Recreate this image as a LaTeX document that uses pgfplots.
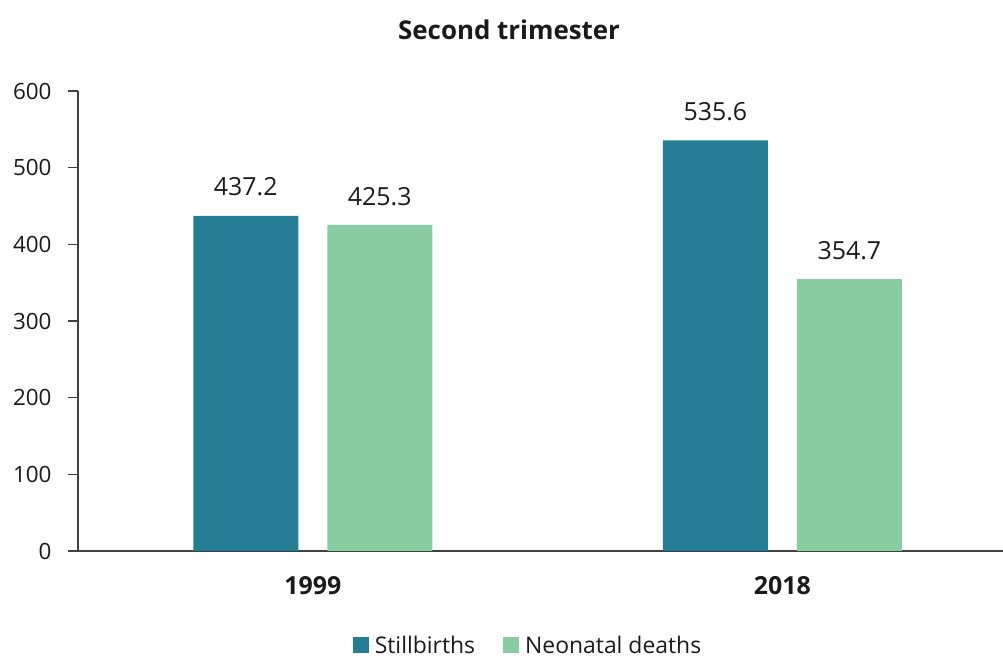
\documentclass[border=0pt]{standalone}
\usepackage{pgfplots}
\pgfplotsset{compat=1.18}
\usepackage{fontspec}
\setmainfont{Open Sans}
\definecolor{still}{HTML}{247D94}
\definecolor{neo}{HTML}{89CCA2}
\definecolor{axgray}{HTML}{404040}
\definecolor{txt}{HTML}{1A1A1A}
\begin{document}
\begin{tikzpicture}[x=1bp,y=1bp]
\path[use as bounding box] (0,0) rectangle (1003,659);
\begin{axis}[
  at={(78bp,108bp)}, anchor=south west,
  scale only axis, width=925bp, height=460bp,
  xmin=-0.5, xmax=1.47, ymin=0, ymax=600,
  axis x line=bottom, axis y line=left,
  axis line style={axgray, line width=1.2pt, -},
  xtick={0,1}, xticklabels={1999,2018},
  xticklabel style={font=\fontsize{25}{28}\selectfont\bfseries, text=txt, yshift=-12bp},
  major x tick style={draw=none},
  ytick={0,100,...,600},
  yticklabel style={font=\fontsize{22.5}{24}\selectfont, text=txt, xshift=-13bp},
  /pgf/number format/assume math mode=true,
  tick align=outside, major tick length=10bp,
  major y tick style={axgray, line width=1.2pt},
  ybar, bar width=105bp,
  nodes near coords,
  every node near coord/.append style={font=\fontsize{25}{28}\selectfont, text=txt, yshift=16bp, /pgf/number format/.cd, fixed, fixed zerofill, precision=1},
  legend style={at={(0.4865,-0.205)}, anchor=center, draw=none, legend columns=2,
    font=\fontsize{23}{25}\selectfont, text=txt, inner sep=1bp,
    /tikz/every even column/.append style={column sep=26bp}},
  legend image code/.code={\path (0bp,0bp) -- (20bp,0bp); \fill[#1] (0bp,-8bp) rectangle (16bp,8bp);},
  clip=false,
]
\addplot[fill=still, draw=none, bar shift=-67bp] coordinates {(0,437.2) (1,535.6)};
\addplot[fill=neo, draw=none, bar shift=67bp] coordinates {(0,425.3) (1,354.7)};
\legend{Stillbirths, Neonatal deaths}
\node[font=\fontsize{26}{28}\selectfont\bfseries, text=txt] at (axis description cs:0.466,1.1326) {Second trimester};
\end{axis}
\end{tikzpicture}
\end{document}
